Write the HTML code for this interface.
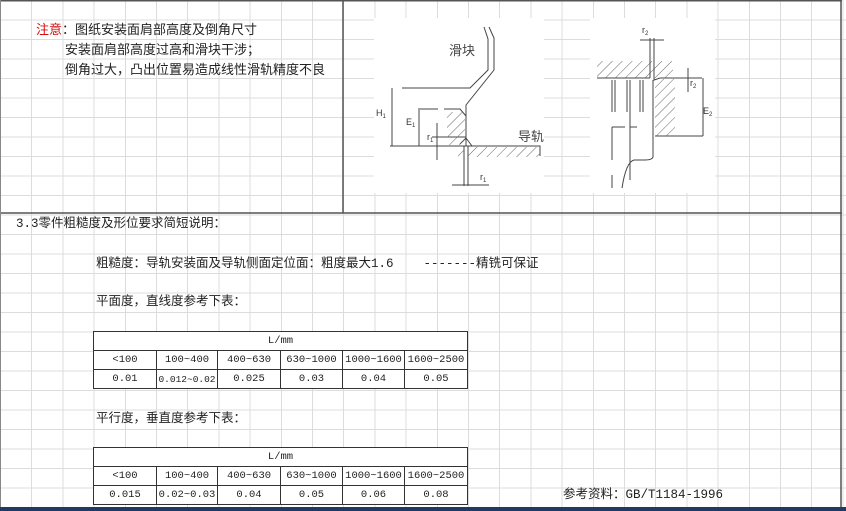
<!DOCTYPE html>
<html><head><meta charset="utf-8"><style>
html,body{margin:0;padding:0;}
body{width:846px;height:511px;position:relative;overflow:hidden;background:#fff;
font-family:"Liberation Sans","Noto Sans CJK SC",sans-serif;}
.grid{position:absolute;left:0;top:0;width:846px;height:511px;
background-image:repeating-linear-gradient(to right,transparent 0,transparent 30.2px,#dcdcdc 30.2px,#dcdcdc 31.2px),
repeating-linear-gradient(to bottom,transparent 0,transparent 18.5px,#dcdcdc 18.5px,#dcdcdc 19.5px);
background-position:1px 1px;}
.t{position:absolute;white-space:nowrap;color:#222;}
.m{font-family:"Liberation Mono","Noto Sans CJK SC",monospace;font-size:12.5px;line-height:18px;}
table{position:absolute;border-collapse:collapse;font-family:"Liberation Mono","Noto Sans CJK SC",monospace;font-size:10.5px;color:#222;background:#fff;}
td{border:1px solid #333;height:18px;padding:0;text-align:center;}
</style></head><body>
<div class="grid"></div>
<svg width="846" height="511" style="position:absolute;left:0;top:0" xmlns="http://www.w3.org/2000/svg">
<defs>
<pattern id="h" width="7" height="7" patternUnits="userSpaceOnUse" patternTransform="rotate(45)">
<line x1="0" y1="0" x2="0" y2="7" stroke="#666" stroke-width="1"/></pattern>
</defs>
<rect x="374" y="18" width="170" height="175" fill="#fff"/>
<rect x="590" y="18" width="125" height="175" fill="#fff"/>
<g stroke="#555" fill="none" stroke-width="1">
<line x1="0" y1="0.5" x2="842" y2="0.5" stroke-width="2"/>
<line x1="343" y1="0" x2="343" y2="213" stroke-width="1.5"/>
<line x1="0" y1="213" x2="842" y2="213" stroke-width="1.5"/>
<line x1="841" y1="0" x2="841" y2="508" stroke-width="1.5"/>
<line x1="0.5" y1="0" x2="0.5" y2="508" stroke="#888"/>
</g>
<rect x="0" y="507" width="846" height="4" fill="#1f3b63"/>
<g stroke="#444" fill="none" stroke-width="1">
<path d="M484,27 L488,39 L488,70 L470,88 L402,88"/>
<path d="M489,27 L494,38 L494,70 L466,105 L466,146"/>
<path d="M418,109 L438,109 M444,109 L460,109 L466,116"/>
<path d="M390,146 L540,146 L540,156"/>
<path d="M464,146 L464,186 M468,146 L468,186"/>
<path d="M460,144 L466,138 L472,146"/>
<line x1="392" y1="88" x2="392" y2="146"/>
<line x1="419" y1="110" x2="419" y2="146"/>
<line x1="437" y1="123" x2="437" y2="160"/>
<line x1="432" y1="137" x2="466" y2="137"/>
<line x1="452" y1="185" x2="489" y2="185"/>
</g>
<rect x="447" y="112" width="18" height="33" fill="url(#h)"/>
<rect x="468" y="147" width="72" height="10" fill="url(#h)"/>
<rect x="458" y="147" width="6" height="10" fill="url(#h)"/>
<g font-size="9" fill="#333" font-family="Liberation Sans,sans-serif">
<text x="376" y="116">H<tspan font-size="6" dy="2">1</tspan></text>
<text x="406" y="125">E<tspan font-size="6" dy="2">1</tspan></text>
<text x="427" y="140">r<tspan font-size="6" dy="2">1</tspan></text>
<text x="480" y="180">r<tspan font-size="6" dy="2">1</tspan></text>
<text x="642" y="33">r<tspan font-size="6" dy="2">2</tspan></text>
<text x="690" y="86">r<tspan font-size="6" dy="2">2</tspan></text>
<text x="703" y="114">E<tspan font-size="6" dy="2">2</tspan></text>
</g>
<text x="449" y="55" font-size="13" fill="#444" font-family="Noto Sans CJK SC,sans-serif">滑块</text>
<text x="518" y="141" font-size="13" fill="#444" font-family="Noto Sans CJK SC,sans-serif">导轨</text>
<rect x="597" y="61" width="76" height="17" fill="url(#h)"/>
<rect x="655" y="79" width="20" height="57" fill="url(#h)"/>
<g stroke="#444" fill="none" stroke-width="1">
<line x1="597" y1="78" x2="650" y2="78"/>
<path d="M650,38 L650,78 M654,38 L654,80 L660,78 L702,78"/>
<line x1="640" y1="40" x2="664" y2="40"/>
<path d="M653,80 L653,157 Q652,160 645,160 L634,160 Q626,162 622,188"/>
<line x1="655" y1="136" x2="703" y2="136"/>
<line x1="703" y1="78" x2="703" y2="136"/>
<line x1="688" y1="68" x2="688" y2="92"/>
<path d="M612,80 L612,112 M615,80 L615,112 M627,80 L627,112 M640,80 L640,112 M643,80 L643,112"/>
<path d="M612,127 L625,127 M630,127 L637,127 M612,127 L612,160 M612,175 L612,188"/>
<line x1="630" y1="80" x2="630" y2="180"/>
</g>
</svg>
<div class="t" style="left:36px;top:20px;font-size:13px;line-height:20px;"><span style="color:#d01010">注意</span>：图纸安装面肩部高度及倒角尺寸</div>
<div class="t" style="left:65px;top:40px;font-size:13px;line-height:20px;">安装面肩部高度过高和滑块干涉；</div>
<div class="t" style="left:65px;top:60px;font-size:13px;line-height:20px;">倒角过大，凸出位置易造成线性滑轨精度不良</div>
<div class="t m" style="left:16px;top:215px;">3.3零件粗糙度及形位要求简短说明：</div>
<div class="t m" style="left:96px;top:255px;">粗糙度：导轨安装面及导轨侧面定位面：粗度最大1.6&nbsp;&nbsp;&nbsp;&nbsp;-------精铣可保证</div>
<div class="t m" style="left:96px;top:293px;">平面度，直线度参考下表：</div>
<div class="t m" style="left:96px;top:410px;">平行度，垂直度参考下表：</div>
<div class="t m" style="left:563px;top:486px;">参考资料：GB/T1184-1996</div>
<table style="left:93px;top:331px;width:375px;">
<tr><td colspan="6">L/mm</td></tr>
<tr><td style="width:62px">&lt;100</td><td style="width:60px">100~400</td><td style="width:62px">400~630</td><td style="width:61px">630~1000</td><td style="width:61px">1000~1600</td><td>1600~2500</td></tr>
<tr><td>0.01</td><td style="font-size:9.5px">0.012~0.02</td><td>0.025</td><td>0.03</td><td>0.04</td><td>0.05</td></tr>
</table>
<table style="left:93px;top:447px;width:375px;">
<tr><td colspan="6">L/mm</td></tr>
<tr><td style="width:62px">&lt;100</td><td style="width:60px">100~400</td><td style="width:62px">400~630</td><td style="width:61px">630~1000</td><td style="width:61px">1000~1600</td><td>1600~2500</td></tr>
<tr><td>0.015</td><td>0.02~0.03</td><td>0.04</td><td>0.05</td><td>0.06</td><td>0.08</td></tr>
</table>
</body></html>
